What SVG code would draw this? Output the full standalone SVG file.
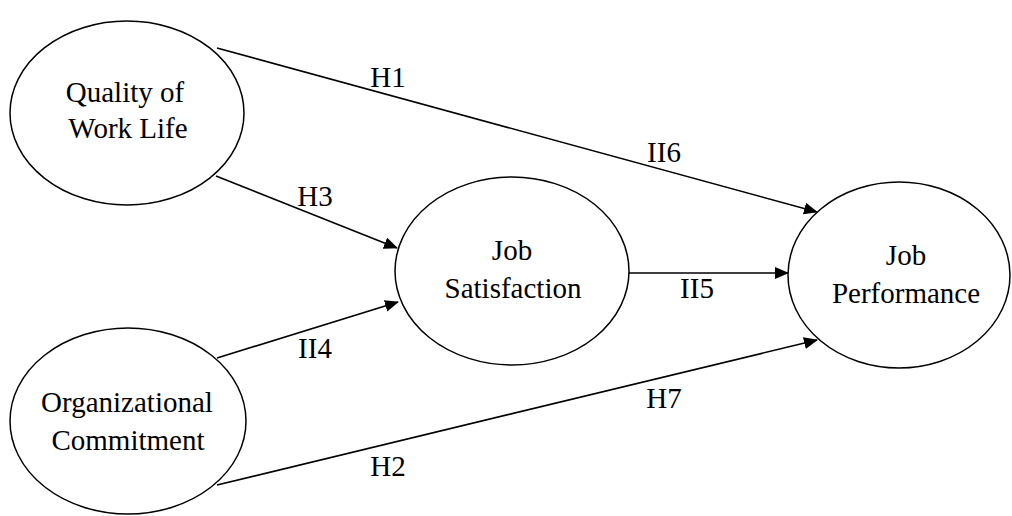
<svg xmlns="http://www.w3.org/2000/svg" width="1012" height="516" viewBox="0 0 1012 516">
<style>
.n{fill:#fff;stroke:#000;stroke-width:1.5}
.t{font-family:"Liberation Serif","Times New Roman",serif;font-size:29px;fill:#000;text-anchor:middle}
.c{stroke:#000;stroke-width:1.6;fill:none}
.a{stroke:#000;stroke-width:1.6;fill:none;marker-end:url(#ah)}
</style>
<defs>
<marker id="ah" markerWidth="14" markerHeight="12" refX="13" refY="6" orient="auto" markerUnits="userSpaceOnUse">
<path d="M0,0 L14,6 L0,12 Z" fill="#000"/>
</marker>
</defs>
<rect width="1012" height="516" fill="#fff"/>
<g id="connectors">
<line class="a" x1="217" y1="48" x2="817" y2="212"/>
<line class="a" x1="216" y1="176" x2="397" y2="248"/>
<line class="a" x1="217" y1="358" x2="398" y2="302"/>
<line class="a" x1="629" y1="273" x2="788" y2="273"/>
<line class="a" x1="217" y1="485" x2="817" y2="340"/>
<text class="t" x="388" y="87">H1</text>
<text class="t" x="664" y="162">II6</text>
<text class="t" x="315" y="206">H3</text>
<text class="t" x="697" y="298">II5</text>
<text class="t" x="315" y="358">II4</text>
<text class="t" x="664" y="408">H7</text>
<text class="t" x="388" y="476">H2</text>
</g>
<g id="qwl">
<ellipse class="n" cx="127" cy="113" rx="117" ry="92"/>
<text class="t" x="125" y="102">Quality of</text>
<text class="t" x="128" y="138">Work Life</text>
</g>
<g id="oc">
<ellipse class="n" cx="128" cy="421" rx="118" ry="93"/>
<text class="t" x="127" y="412">Organizational</text>
<text class="t" x="128" y="450">Commitment</text>
</g>
<g id="js">
<ellipse class="n" cx="512" cy="271" rx="117" ry="94"/>
<text class="t" x="512" y="260">Job</text>
<text class="t" x="513" y="298">Satisfaction</text>
</g>
<g id="jp">
<ellipse class="n" cx="899" cy="275" rx="111" ry="93"/>
<text class="t" x="906" y="265">Job</text>
<text class="t" x="906" y="303">Performance</text>
</g>
</svg>
